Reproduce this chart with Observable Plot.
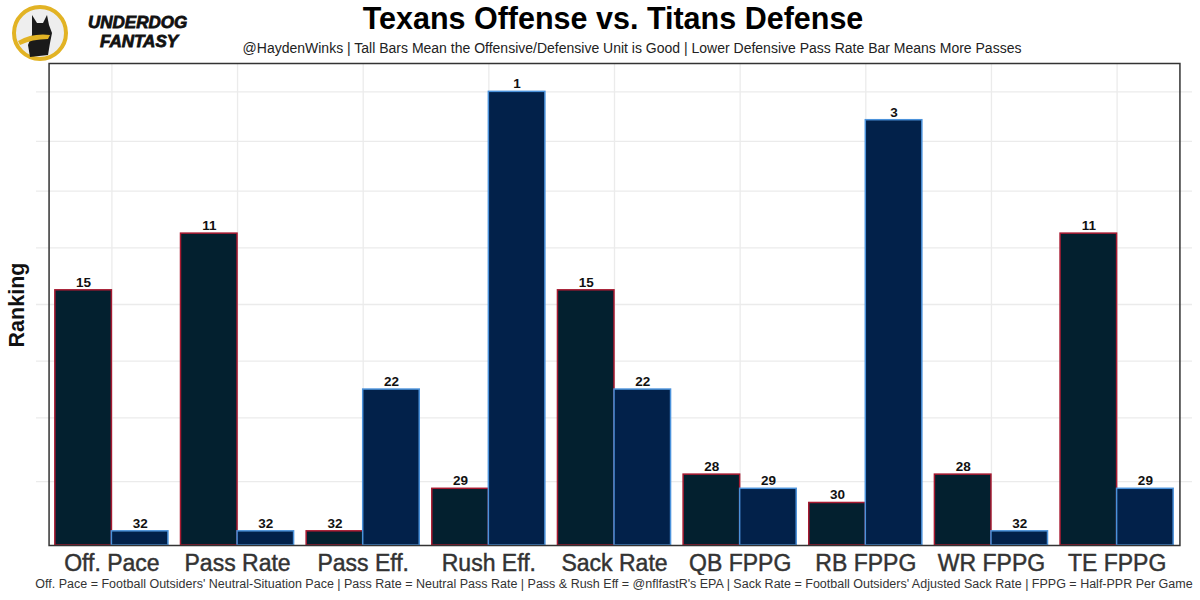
<!DOCTYPE html>
<html>
<head>
<meta charset="utf-8">
<script src="https://cdn.jsdelivr.net/npm/d3@7"></script>
<script src="https://cdn.jsdelivr.net/npm/@observablehq/plot@0.6"></script>
<style>
  html, body { margin: 0; padding: 0; background: #fff; }
  body { width: 1200px; height: 600px; position: relative; overflow: hidden; font-family: "Liberation Sans", Arial, sans-serif; }
  #title { position: absolute; left: 0; width: 1226px; top: 1px; text-align: center; font-size: 30.5px; font-weight: bold; color: #000; }
  #subtitle { position: absolute; left: 0; width: 1264px; top: 40px; text-align: center; font-size: 14px; color: #222; }
  #chart { position: absolute; left: 0; top: 60px; width: 1200px; height: 515px; }
  #chart svg { position: absolute; left: 0; top: 0; }
  #ylab { position: absolute; left: 17px; top: 305px; transform: translate(-50%, -50%) rotate(-90deg); font-size: 21.5px; font-weight: bold; color: #111; white-space: nowrap; }
  #caption { position: absolute; left: 0; width: 1228px; top: 577px; text-align: center; font-size: 12.5px; color: #333; }
  #logo { position: absolute; left: 10px; top: 3px; }
  [aria-label="fx-axis tick label"] text { stroke: #333; stroke-width: 0.45px; }
</style>
</head>
<body>
<svg id="logo" width="200" height="60" viewBox="0 0 200 60">
  <circle cx="30" cy="30" r="26" fill="#eeeeee" stroke="#e2b324" stroke-width="4"/>
  <path d="M22 12 L27 20 L33 20 L37 12 L39 22 L42 30 L40 40 L38 52 L20 54 L18 42 L22 32 Z" fill="#1a1a1a"/>
  <path d="M8 38 Q22 30 40 32 L38 36 Q22 36 10 42 Z" fill="#e2b324"/>
  <text x="78" y="25" font-family="Liberation Sans, Arial" font-weight="bold" font-style="italic" font-size="17" fill="#111" stroke="#111" stroke-width="0.8">UNDERDOG</text>
  <text x="90" y="44" font-family="Liberation Sans, Arial" font-weight="bold" font-style="italic" font-size="17" fill="#111" stroke="#111" stroke-width="0.8">FANTASY</text>
</svg>
<div id="title">Texans Offense vs. Titans Defense</div>
<div id="subtitle">@HaydenWinks | Tall Bars Mean the Offensive/Defensive Unit is Good | Lower Defensive Pass Rate Bar Means More Passes</div>
<div id="ylab">Ranking</div>
<div id="chart"></div>
<div id="caption">Off. Pace = Football Outsiders' Neutral-Situation Pace | Pass Rate = Neutral Pass Rate | Pass &amp; Rush Eff = @nflfastR's EPA | Sack Rate = Football Outsiders' Adjusted Sack Rate | FPPG = Half-PPR Per Game</div>
<script>
const categories = ["Off. Pace", "Pass Rate", "Pass Eff.", "Rush Eff.", "Sack Rate", "QB FPPG", "RB FPPG", "WR FPPG", "TE FPPG"];
const sides = ["Offense", "Defense"];
const offenseRank = [15, 11, 32, 29, 15, 28, 30, 28, 11];
const defenseRank = [32, 32, 22, 1, 22, 29, 3, 32, 29];
const gridValues = [4.5, 9, 13, 17, 21, 25, 28.5, 32];

const fillColors = {Offense: "#03202f", Defense: "#02214a"};
const strokeColors = {Offense: "#a71930", Defense: "#4b92db"};

const data = categories.flatMap((c, i) => [
  {category: c, side: "Offense", rank: offenseRank[i]},
  {category: c, side: "Defense", rank: defenseRank[i]}
]);

const common = {
  width: 1200,
  height: 515,
  marginLeft: 36,
  marginRight: 8,
  marginTop: 3,
  marginBottom: 30,
  style: {fontFamily: "Liberation Sans, Arial, sans-serif", background: "transparent"},
  y: {domain: [0, 34], axis: null}
};

// background: horizontal grid across the whole panel
const back = Plot.plot({
  ...common,
  x: {axis: null},
  marks: [
    Plot.gridY(gridValues, {stroke: "#ebebeb", strokeOpacity: 1, strokeWidth: 1.3})
  ]
});

// foreground: grouped bars
const front = Plot.plot({
  ...common,
  fx: {domain: categories, paddingInner: 0, paddingOuter: 0.1, round: false, label: null, axis: null},
  x: {domain: sides, paddingInner: 0, paddingOuter: 0.111, round: false, axis: null},
  marks: [
    Plot.gridFx({stroke: "#ebebeb", strokeOpacity: 1, strokeWidth: 1.3}),
    Plot.barY(data, {
      fx: "category", x: "side", y: d => 33 - d.rank,
      fill: d => fillColors[d.side], stroke: d => strokeColors[d.side], strokeWidth: 1.5
    }),
    Plot.text(data, {
      fx: "category", x: "side", y: d => 33 - d.rank, text: d => String(d.rank),
      dy: -8, fontSize: 13.5, fontWeight: "bold", fill: "#111"
    }),
    Plot.axisFx({anchor: "bottom", tickSize: 0, tickPadding: 9, fontSize: 23, label: null, fill: "#333"}),
    Plot.frame({facet: "super", stroke: "#333", strokeWidth: 1.5})
  ]
});
const holder = document.getElementById("chart");
holder.appendChild(back);
holder.appendChild(front);
</script>
</body>
</html>
